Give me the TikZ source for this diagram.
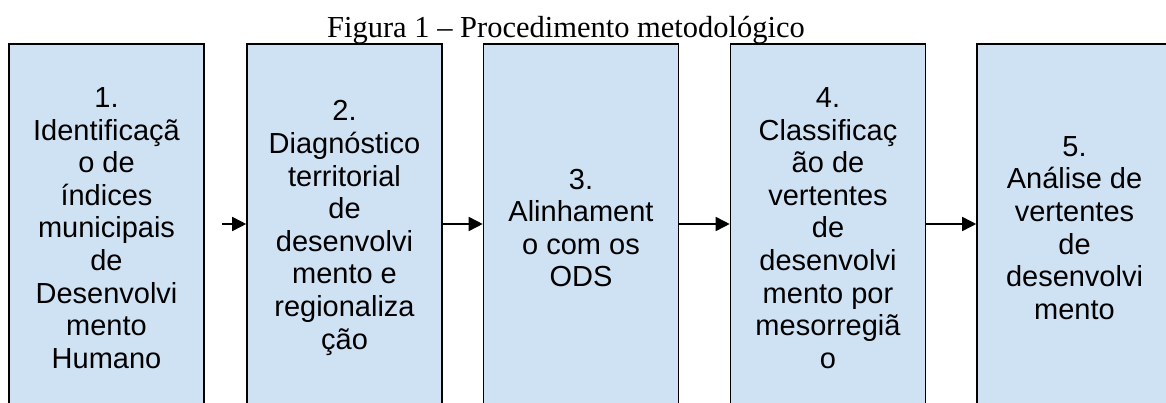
\documentclass[tikz,border=0pt]{standalone}
\usepackage{fontspec}
\setmainfont{Liberation Serif}
\newfontfamily\arialfont{Liberation Sans}
\usetikzlibrary{arrows.meta}

\definecolor{azulclaro}{RGB}{207,226,243}

\tikzstyle{etapa}=[draw=black, line width=1.6pt, fill=azulclaro, minimum width=195pt, minimum height=368pt, inner sep=0pt, align=center, font=\arialfont\fontsize{29}{32.6}\selectfont]
\tikzstyle{seta}=[line width=1.6pt, -{Triangle[length=14pt,width=14pt]}]

\begin{document}
\begin{tikzpicture}[x=1pt,y=1pt]

\useasboundingbox (0,0) rectangle (1166,402);
\clip (0,0) rectangle (1166,402);

\node[font=\fontsize{30.5}{36}\selectfont, anchor=base] (titulo) at (566,364) {Figura 1 – Procedimento metodológico};

\node[etapa] (e1) at (106.5,174) {1.\\Identificaçã\\o de\\índices\\municipais\\de\\Desenvolvi\\mento\\Humano};
\node[etapa] (e2) at (344.5,174) {2.\\Diagnóstico\\territorial\\de\\desenvolvi\\mento e\\regionaliza\\ção};
\node[etapa] (e3) at (581,174) {3.\\Alinhament\\o com os\\ODS};
\node[etapa] (e4) at (828,174) {4.\\Classificaç\\ão de\\vertentes\\de\\desenvolvi\\mento por\\mesorregiã\\o};
\node[etapa] (e5) at (1074.5,174) {5.\\Análise de\\vertentes\\de\\desenvolvi\\mento};

\coordinate (s1) at (222,178);
\draw[seta] (s1) -- (e2.west |- s1);
\draw[seta] (e2.east |- s1) -- (e3.west |- s1);
\draw[seta] (e3.east |- s1) -- (e4.west |- s1);
\draw[seta] (e4.east |- s1) -- (e5.west |- s1);

\end{tikzpicture}
\end{document}
